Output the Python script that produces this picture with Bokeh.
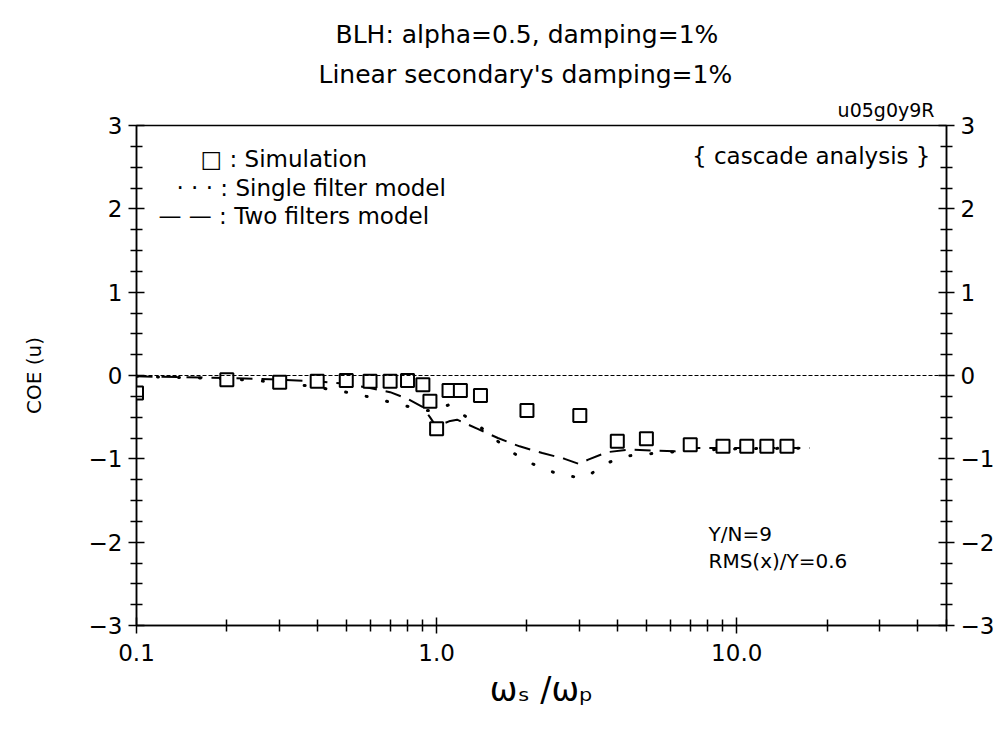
from bokeh.plotting import figure
from bokeh.models import (FixedTicker, LinearAxis, Label, Span, Range1d, Title)
from bokeh.embed import file_html
from bokeh.resources import INLINE

# ---------------- data ----------------
sim_x = [0.1, 0.2, 0.3, 0.4, 0.5, 0.6, 0.7, 0.8, 0.9, 0.95, 1.0, 1.1, 1.2, 1.4,
         2.0, 3.0, 4.0, 5.0, 7.0, 9.0, 10.8, 12.6, 14.7]
sim_y = [-0.21, -0.05, -0.08, -0.07, -0.06, -0.07, -0.07, -0.06, -0.11, -0.31, -0.64,
         -0.18, -0.18, -0.24, -0.42, -0.48, -0.79, -0.76, -0.83, -0.85, -0.85, -0.85, -0.85]

single_x = [0.1, 0.2, 0.3, 0.4, 0.5, 0.6, 0.7, 0.8, 0.9, 1.0, 1.1, 1.27, 1.5, 1.67,
            1.93, 2.26, 2.7, 3.16, 3.6, 4.2, 5.1, 7.0, 10.0, 17.5]
single_y = [-0.01, -0.04, -0.08, -0.14, -0.2, -0.26, -0.32, -0.37, -0.42, -0.42, -0.35,
            -0.51, -0.7, -0.85, -1.0, -1.12, -1.21, -1.22, -1.07, -0.97, -0.94, -0.9,
            -0.88, -0.87]

two_x = [0.1, 0.2, 0.3, 0.4, 0.5, 0.6, 0.7, 0.8, 0.9, 0.95, 1.0, 1.03, 1.1, 1.17, 1.37,
         1.6, 1.89, 2.25, 2.67, 2.97, 3.2, 3.7, 4.4, 5.2, 6.2, 7.3, 8.7, 12.0, 17.5]
two_y = [-0.01, -0.03, -0.05, -0.07, -0.1, -0.15, -0.2, -0.28, -0.38, -0.5, -0.62, -0.59,
         -0.55, -0.53, -0.64, -0.75, -0.85, -0.93, -1.0, -1.06, -1.01, -0.92, -0.89, -0.9,
         -0.91, -0.87, -0.87, -0.87, -0.87]

x_major = [0.1, 1.0, 10.0]
x_major_labels = ["0.1", "1.0", "10.0"]
x_minor = [0.2, 0.3, 0.4, 0.5, 0.6, 0.7, 0.8, 0.9, 2, 3, 4, 5, 6, 7, 8, 9, 20, 30, 40, 50]
y_major = [-3, -2, -1, 0, 1, 2, 3]
y_major_labels = ["\u22123", "\u22122", "\u22121", "0", "1", "2", "3"]
y_minor = [v / 4 for v in range(-12, 13) if v % 4 != 0]

FONT = "DejaVu Sans"

p = figure(width=1008, height=741, x_axis_type="log", title=None,
           x_range=Range1d(0.1, 50), y_range=Range1d(-3, 3),
           output_backend="svg", toolbar_location=None,
           min_border_left=136, min_border_right=62,
           min_border_top=125, min_border_bottom=116)
p.grid.visible = False
p.outline_line_color = "black"
p.outline_line_width = 1.5
p.background_fill_color = "white"
p.border_fill_color = "white"

def style_axis(ax):
    ax.axis_line_width = 1.5
    ax.axis_line_color = "black"
    ax.major_tick_in = 8
    ax.major_tick_out = 8
    ax.minor_tick_in = 6
    ax.minor_tick_out = 6
    ax.major_tick_line_width = 1.5
    ax.minor_tick_line_width = 1.5
    ax.major_label_text_font = FONT
    ax.major_label_text_font_size = "23px"
    ax.major_label_text_color = "black"

xa = p.xaxis[0]
xa.ticker = FixedTicker(ticks=x_major, minor_ticks=x_minor)
xa.major_label_overrides = {t: l for t, l in zip(x_major, x_major_labels)}
style_axis(xa)
xa.major_label_standoff = 10
xa.axis_label = "\u03c9\u209b /\u03c9\u209a"
xa.axis_label_text_font = FONT
xa.axis_label_text_font_size = "33px"
xa.axis_label_text_font_style = "normal"
xa.axis_label_text_color = "black"
xa.axis_label_standoff = 6

ya = p.yaxis[0]
ya.ticker = FixedTicker(ticks=y_major, minor_ticks=y_minor)
ya.major_label_overrides = {t: l for t, l in zip(y_major, y_major_labels)}
style_axis(ya)
ya.major_label_standoff = 6
ya.axis_label = "COE (u)"
ya.axis_label_text_font = FONT
ya.axis_label_text_font_size = "20px"
ya.axis_label_text_font_style = "normal"
ya.axis_label_text_color = "black"
ya.axis_label_standoff = 40

ra = LinearAxis(ticker=FixedTicker(ticks=y_major, minor_ticks=y_minor))
ra.major_label_overrides = {t: l for t, l in zip(y_major, y_major_labels)}
style_axis(ra)
ra.major_label_standoff = 6
p.add_layout(ra, "right")

# titles, stacked outward from the frame
p.add_layout(Title(text="u05g0y9R", align="right", offset=12, text_font=FONT,
                   text_font_size="19px", text_font_style="normal",
                   text_color="black", standoff=10), "above")
p.add_layout(Title(text="Linear secondary's damping=1%", align="left", offset=182,
                   text_font=FONT, text_font_size="25px", text_font_style="normal",
                   text_color="black", standoff=6), "above")
p.add_layout(Title(text="BLH: alpha=0.5, damping=1%", align="left", offset=199,
                   text_font=FONT, text_font_size="25px", text_font_style="normal",
                   text_color="black", standoff=11), "above")

# zero line
p.add_layout(Span(location=0, dimension="width", line_color="black",
                  line_width=1, line_dash="4 2"))

# series
p.line(two_x, two_y, line_color="black", line_width=2, line_dash="16 9")
p.line(single_x, single_y, line_color="black", line_width=3, line_dash="1 20",
       line_cap="round")
p.scatter(sim_x, sim_y, marker="square", size=13, fill_color="white",
          line_color="black", line_width=2)

def lab(text, sx, sy, size, align="left", baseline="middle"):
    p.add_layout(Label(x=sx, y=sy, x_units="screen", y_units="screen", text=text,
                       text_font=FONT, text_font_size=size, text_align=align,
                       text_baseline=baseline, text_color="black"))

# legend / annotations (screen coords relative to frame bottom-left)
lab("\u25a1 : Simulation", 64, 467, "23px")
lab("\u00b7 \u00b7 \u00b7 : Single filter model", 40, 438, "23px")
lab("\u2014 \u2014 : Two filters model", 22, 410, "23px")
lab("{ cascade analysis }", 794, 470, "23px", "right")
lab("Y/N=9", 572, 92, "20px")
lab("RMS(x)/Y=0.6", 572, 65, "20px")

open("out.html", "w").write(file_html(p, INLINE))
